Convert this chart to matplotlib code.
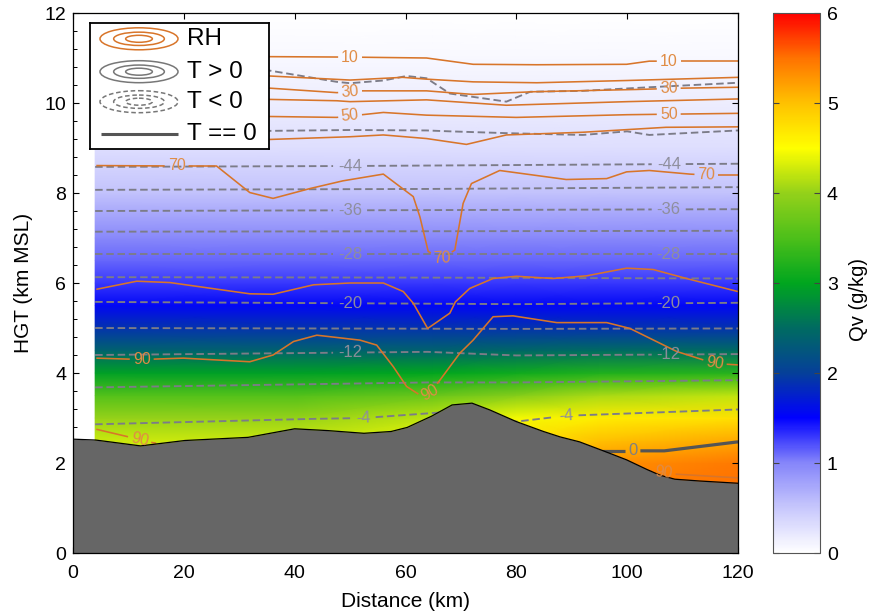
import numpy as np
import matplotlib
matplotlib.use("Agg")
import matplotlib.pyplot as plt
from matplotlib.colors import LinearSegmentedColormap, Normalize
from matplotlib.patches import Ellipse
from matplotlib.ticker import MultipleLocator

plt.rcParams["font.family"] = ["Liberation Sans", "DejaVu Sans"]

DPI = 100

# ---------------- terrain profile (km) ----------------
terrain_x = [0, 4.1, 12.2, 20.2, 31.6, 40, 46, 52.5, 57.4, 60.3, 64.7, 68.4, 72,
             75.2, 80, 84.9, 87.9, 91.4, 95.7, 99.9, 103.5, 105.9, 108.6, 113.1, 120]
terrain_z = [2.53, 2.51, 2.38, 2.5, 2.57, 2.76, 2.72, 2.66, 2.7, 2.79, 3.04, 3.29, 3.33,
             3.18, 2.92, 2.7, 2.58, 2.47, 2.27, 2.07, 1.86, 1.73, 1.64, 1.6, 1.55]

# ---------------- water vapour mixing ratio Qv (g/kg) ----------------
qv_dist = [4, 40, 65, 80, 95, 120]
qv_hgt = [1.5, 2.0, 2.5, 3.0, 3.5, 4.0, 4.5, 5.0, 5.5, 6.0, 6.5, 7.0, 8.0, 9.0, 10.0, 11.0, 12.0]
qv_values = [
    [4.30, 4.30, 4.45, 4.80, 5.40, 5.50],
    [4.30, 4.30, 4.45, 4.75, 5.30, 5.45],
    [4.25, 4.25, 4.40, 4.70, 5.00, 5.15],
    [4.00, 4.00, 4.20, 4.45, 4.65, 4.75],
    [3.55, 3.55, 3.70, 3.90, 4.10, 4.20],
    [2.95, 2.95, 3.00, 3.10, 3.20, 3.25],
    [2.40, 2.40, 2.40, 2.45, 2.50, 2.50],
    [1.90, 1.90, 1.90, 1.90, 1.90, 1.90],
    [1.55, 1.55, 1.55, 1.55, 1.55, 1.55],
    [1.30, 1.30, 1.30, 1.30, 1.30, 1.30],
    [1.12, 1.12, 1.12, 1.12, 1.12, 1.12],
    [0.98, 0.98, 0.98, 0.98, 0.98, 0.98],
    [0.55, 0.55, 0.55, 0.55, 0.55, 0.55],
    [0.30, 0.30, 0.30, 0.30, 0.30, 0.30],
    [0.17, 0.17, 0.17, 0.17, 0.17, 0.17],
    [0.07, 0.07, 0.07, 0.07, 0.07, 0.07],
    [0.00, 0.00, 0.00, 0.00, 0.00, 0.00],
]

# ---------------- relative humidity contours (%) ----------------
rh_lines = {
    10: ([4, 35.5, 50, 63.8, 72.2, 83.7, 99.9, 104, 120],
         [11.03, 11.03, 11.02, 11.0, 10.86, 10.85, 10.86, 10.93, 10.93]),
    20: ([4, 35.5, 50, 59.5, 63.8, 72.2, 83.7, 100, 120],
         [10.62, 10.6, 10.51, 10.57, 10.53, 10.47, 10.45, 10.5, 10.57]),
    30: ([4, 35.5, 47.6, 52, 63.8, 72.2, 83, 101.5, 110, 120],
         [10.36, 10.33, 10.23, 10.27, 10.27, 10.19, 10.25, 10.3, 10.33, 10.35]),
    40: ([4, 35.5, 47.6, 50, 63.8, 78.2, 100, 120],
         [10.1, 10.08, 10.05, 10.03, 10.07, 9.95, 10.03, 10.09]),
    50: ([4, 35.5, 47.6, 56, 63.8, 80, 100, 120],
         [9.72, 9.7, 9.68, 9.79, 9.73, 9.68, 9.74, 9.77]),
    60: ([4, 35.5, 50, 56, 63.8, 71, 78.2, 92, 107, 120],
         [9.2, 9.19, 9.25, 9.29, 9.21, 9.08, 9.29, 9.35, 9.46, 9.47]),
    70: ([4.2, 18.7, 25.9, 31.9, 36.1, 42.8, 48.7, 56, 61.4, 62.6, 64.1, 66.5, 68.9,
          70.4, 71.9, 77, 89, 96.3, 99.9, 104, 111.3, 114.3, 120],
         [8.61, 8.6, 8.6, 8.01, 7.88, 8.1, 8.27, 8.42, 7.92, 7.47, 6.7, 6.55, 6.73,
          7.77, 8.21, 8.5, 8.3, 8.32, 8.47, 8.5, 8.42, 8.4, 8.4]),
    80: ([4.2, 11.5, 17.5, 31.9, 36.1, 43.4, 50, 56, 59.6, 61.4, 64, 68, 69, 71.6,
          75.8, 80, 86.6, 92.7, 99.9, 104.7, 110.7, 120],
         [5.86, 6.04, 6.01, 5.76, 5.75, 5.96, 6.0, 6.0, 5.81, 5.55, 4.99, 5.33, 5.58,
          5.88, 6.1, 6.15, 6.1, 6.16, 6.33, 6.3, 6.1, 5.81]),
    90: ([4.2, 12.4, 19.9, 31.9, 36.1, 39.8, 44, 51.8, 54.8, 57.8, 60.2, 62.6, 64.4,
          66.2, 69.8, 72.2, 75.8, 79.4, 87.3, 96.3, 100.5, 108.9, 115.8, 120],
         [4.33, 4.3, 4.33, 4.25, 4.4, 4.7, 4.84, 4.73, 4.62, 4.14, 3.7, 3.51, 3.55,
          3.84, 4.44, 4.73, 5.25, 5.27, 5.12, 5.12, 4.99, 4.48, 4.21, 4.18]),
}
rh_label_x = {10: [50, 107.5], 20: [], 30: [50, 107.5], 40: [], 50: [50, 107.5],
              60: [], 70: [18.7, 66.5, 114.3], 80: [], 90: [12.4, 64.4, 115.8]}
# additional 90 % segments near the ground
rh90_west = ([4.2, 9.7, 12.6, 15.0], [2.75, 2.59, 2.49, 2.44])
rh90_west_label = [12.0]
rh90_east = ([104, 107, 109, 120], [1.82, 1.78, 1.75, 1.67])
rh90_east_label = [106.6]

# ---------------- temperature contours (deg C) ----------------
t_lines = {
    -52: ([4, 35.5, 47.6, 50, 56, 60.2, 63.8, 68, 78.2, 82.5, 92, 104, 120],
          [10.75, 10.72, 10.47, 10.44, 10.5, 10.6, 10.55, 10.21, 10.03, 10.25, 10.27, 10.35, 10.45]),
    -48: ([4, 35, 50, 63.8, 68, 78.2, 92, 100, 104, 120],
          [9.38, 9.38, 9.4, 9.39, 9.37, 9.33, 9.29, 9.37, 9.29, 9.39]),
    -44: ([4, 50, 120], [8.58, 8.6, 8.65]),
    -40: ([4, 64, 120], [8.07, 8.09, 8.13]),
    -36: ([4, 64, 120], [7.6, 7.62, 7.64]),
    -32: ([4, 64, 120], [7.14, 7.15, 7.16]),
    -28: ([4, 64, 120], [6.64, 6.64, 6.64]),
    -24: ([4, 64, 120], [6.13, 6.12, 6.10]),
    -20: ([4, 80, 120], [5.58, 5.53, 5.56]),
    -16: ([4, 80, 120], [5.0, 4.98, 4.99]),
    -12: ([4, 64, 80, 120], [4.4, 4.47, 4.39, 4.42]),
    -8: ([4, 64, 80, 120], [3.68, 3.79, 3.79, 3.84]),
    -4: ([4, 43, 52.4, 66, 80, 89, 120], [2.86, 2.98, 3.0, 3.12, 2.92, 3.05, 3.19]),
}
t_label_x = {-52: [], -48: [], -44: [50, 107.5], -40: [], -36: [50, 107.5], -32: [],
             -28: [50, 107.5], -24: [], -20: [50, 107.5], -16: [], -12: [50, 107.5],
             -8: [], -4: [52.4, 89]}
t_zero = ([95.4, 101, 106.7, 120], [2.27, 2.27, 2.27, 2.47])
t_zero_label = [101]

# ---------------- colour map ----------------
cmap_nodes = [
    (0.0, (1.00, 1.00, 1.00)), (0.5, (0.78, 0.78, 0.99)), (1.0, (0.52, 0.52, 0.98)),
    (1.5, (0.00, 0.00, 1.00)), (2.0, (0.02, 0.25, 0.60)), (2.5, (0.00, 0.42, 0.38)),
    (3.0, (0.00, 0.65, 0.12)), (3.5, (0.30, 0.75, 0.10)), (4.0, (0.58, 0.82, 0.10)),
    (4.5, (1.00, 1.00, 0.00)), (5.0, (1.00, 0.76, 0.00)), (5.5, (1.00, 0.45, 0.00)),
    (6.0, (1.00, 0.00, 0.00)),
]
cmap = LinearSegmentedColormap.from_list("qv", [(v / 6.0, c) for v, c in cmap_nodes], N=512)
norm = Normalize(0, 6)

RH_COLOR = "#d8752a"
RH_TEXT = "#e08c45"
T_COLOR = "#7c7c88"
T_TEXT = "#8e8e9c"
ZERO_COLOR = "#555555"

fig = plt.figure(figsize=(8.72, 6.14), dpi=DPI)
ax = fig.add_axes([73 / 872, 61 / 614, 665 / 872, 540 / 614])
ax.set_xlim(0, 120)
ax.set_ylim(0, 12)

QX, QY = np.meshgrid(qv_dist, qv_hgt)
mesh = ax.pcolormesh(QX, QY, np.array(qv_values), cmap=cmap, norm=norm,
                     shading="gouraud", zorder=0)


def labeled_line(xs, ys, label_xs, text, color, lw, ls, tcolor, fs, zorder=2):
    xs = np.asarray(xs, float)
    ys = np.asarray(ys, float)
    pts = ax.transData.transform(np.column_stack([xs, ys]))
    seg = np.hypot(*np.diff(pts, axis=0).T)
    s = np.concatenate([[0.0], np.cumsum(seg)])
    half = 0.5 * len(text) * 0.56 * fs * DPI / 72.0 + 3.0
    gaps = [(np.interp(xl, xs, s) - half, np.interp(xl, xs, s) + half,
             np.interp(xl, xs, s)) for xl in label_xs]
    edges = [0.0]
    for a, b, _ in gaps:
        edges += [a, b]
    edges.append(s[-1])
    inv = ax.transData.inverted()
    for i in range(0, len(edges), 2):
        a, b = max(edges[i], 0.0), min(edges[i + 1], s[-1])
        if b <= a:
            continue
        inner = s[(s > a) & (s < b)]
        ss = np.concatenate([[a], inner, [b]])
        px = np.interp(ss, s, pts[:, 0])
        py = np.interp(ss, s, pts[:, 1])
        dat = inv.transform(np.column_stack([px, py]))
        ax.plot(dat[:, 0], dat[:, 1], color=color, lw=lw, ls=ls, zorder=zorder,
                solid_capstyle="butt", dash_capstyle="butt")
    for a, b, sl in gaps:
        a, b = max(a, 0.0), min(b, s[-1])
        dx = np.interp(b, s, pts[:, 0]) - np.interp(a, s, pts[:, 0])
        dy = np.interp(b, s, pts[:, 1]) - np.interp(a, s, pts[:, 1])
        ang = np.degrees(np.arctan2(dy, dx))
        if ang > 90:
            ang -= 180
        elif ang < -90:
            ang += 180
        c = inv.transform([[np.interp(sl, s, pts[:, 0]), np.interp(sl, s, pts[:, 1])]])[0]
        ax.text(c[0], c[1], text, rotation=ang, rotation_mode="anchor", ha="center",
                va="center", color=tcolor, fontsize=fs, zorder=4)


dash = (0, (4.0, 2.0))
for level, (xs, ys) in t_lines.items():
    labeled_line(xs, ys, t_label_x[level], f"{level}", T_COLOR, 1.35, dash, T_TEXT, 12)
labeled_line(*t_zero, t_zero_label, "0", ZERO_COLOR, 2.3, "-", "#808080", 12)

for level, (xs, ys) in rh_lines.items():
    labeled_line(xs, ys, rh_label_x[level], f"{level}", RH_COLOR, 1.15, "-", RH_TEXT, 11.5)
labeled_line(*rh90_west, rh90_west_label, "90", RH_COLOR, 1.15, "-", RH_TEXT, 11.5)
labeled_line(*rh90_east, rh90_east_label, "90", RH_COLOR, 1.15, "-", RH_TEXT, 11.5)

# terrain
ax.fill_between(terrain_x, 0, terrain_z, color="#666666", lw=0, zorder=3)
ax.plot(terrain_x, terrain_z, color="black", lw=0.9, zorder=3.1)

ax.set_xticks(range(0, 121, 20))
ax.set_yticks(range(0, 13, 2))
ax.yaxis.set_minor_locator(MultipleLocator(0.4))
ax.tick_params(which="both", direction="in", top=True, right=True, labelsize=14)
ax.tick_params(axis="x", pad=9)
ax.tick_params(axis="y", pad=5)
ax.tick_params(which="major", length=4.5, width=0.8)
ax.tick_params(which="minor", length=3, width=0.7, right=False)
for sp in ax.spines.values():
    sp.set_linewidth(0.9)
    sp.set_zorder(5)
ax.set_xlabel("Distance (km)", fontsize=15, labelpad=7)
ax.set_ylabel("HGT (km MSL)", fontsize=15, labelpad=8)

# colour bar
cax = fig.add_axes([773 / 872, 61 / 614, 47 / 872, 540 / 614])
cb = fig.colorbar(mesh, cax=cax, ticks=range(0, 7))
cb.outline.set_edgecolor("#555555")
cb.outline.set_linewidth(0.8)
cax.tick_params(direction="in", left=True, right=True, length=4, width=0.8,
                color="#444444", labelsize=14, pad=5)
cb.set_label("Qv (g/kg)", fontsize=14.5)
cax.yaxis.set_label_coords(1.62, 0.47)

# legend box
lax = fig.add_axes([90 / 872, 465 / 614, 179 / 872, 126 / 614])
lax.set_xlim(90, 269)
lax.set_ylim(149, 23)
lax.set_xticks([])
lax.set_yticks([])
lax.set_facecolor("white")
for sp in lax.spines.values():
    sp.set_linewidth(1.3)
    sp.set_edgecolor("black")
legend_rows = [("RH", 38.8, RH_COLOR, "-"), ("T > 0", 71.7, "#777777", "-"),
               ("T < 0", 101.7, "#777777", (0, (3.0, 1.8)))]
ring_sizes = [(78, 22), (50.7, 13.3), (26.7, 7.0)]
for label, cy, col, ls in legend_rows:
    for w, h in ring_sizes:
        lax.add_patch(Ellipse((139, cy), w, h, fill=False, edgecolor=col, lw=1.1, ls=ls))
    lax.text(186.5, cy, label, fontsize=17.5, ha="left", va="center")
lax.plot([100.7, 178.3], [134.3, 134.3], color=ZERO_COLOR, lw=2.2, solid_capstyle="butt")
lax.text(186.5, 134.3, "T == 0", fontsize=17.5, ha="left", va="center")

fig.savefig("out.png", dpi=DPI)
